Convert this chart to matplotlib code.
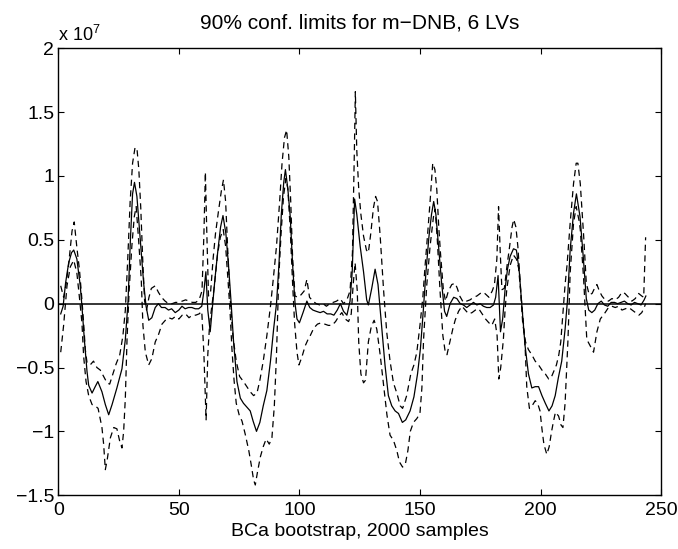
import matplotlib
matplotlib.use("Agg")
import matplotlib.pyplot as plt

# valeurs (unites de 1e7)
est_x = [1, 2, 3, 4.3, 5.5, 6.4, 7.7, 9.1, 9.8, 10.8, 11.9, 12.6, 14, 15.3, 16.4, 18.1, 19.5, 20.9,
         22.3, 24.3, 26.4, 27.8, 28.9, 29.9, 30.8, 31.6, 32.6, 34, 35.4, 36.4, 37.5, 38.8, 40.2,
         41.5, 42.8, 44.3, 45.7, 47, 48.5, 50, 51.3, 52.6, 54, 55.4, 56.8, 58.2, 59.5, 60.4, 61.2,
         62, 63, 63.8, 65, 66.2, 67.3, 68.3, 69.5, 70.6, 71.7, 72.7, 74.1, 75.5, 76.8, 78.2, 79.6,
         80.8, 82.2, 83.6, 85, 86.5, 88, 89.3, 90.5, 91.5, 92.5, 93.5, 94.2, 95.2, 96.2, 97.2, 98.2,
         99, 100, 101.5, 103.1, 104.3, 105.6, 107, 108.6, 110, 111.5, 113, 114.3, 115.7, 117, 118.3,
         119.7, 121, 121.9, 122.9, 123.8, 125.2, 126.6, 127.9, 128.6, 130, 131.4, 132.6, 134, 135.5,
         136.9, 138.3, 139.7, 141.1, 142.7, 144.1, 145.9, 147.5, 149, 150.2, 151.4, 152.5, 153.7,
         154.8, 155.7, 156.6, 157.7, 159, 160.2, 161.1, 162.5, 164, 165.3, 166.7, 168, 169.4, 170.8,
         172.2, 173.6, 175, 176.3, 177.7, 179.1, 180.5, 181.4, 182.4, 183.4, 184.3, 185.3, 186.3,
         187.4, 188.8, 190, 191.2, 192.2, 193.6, 195, 196.4, 197.8, 199.2, 200.6, 202, 203.5, 204.8,
         206.1, 207.4, 208.8, 210.2, 211.2, 212.3, 213.7, 214.9, 216.4, 217.8, 219, 220, 221.3,
         222.5, 223.8, 225.2, 226.5, 227.9, 229.3, 230.7, 232, 233.4, 234.8, 236.2, 237.6, 239,
         240.3, 241.7, 243, 243.7]
est_y = [-0.08, -0.02, 0.16, 0.32, 0.40, 0.42, 0.35, 0.14, -0.02, -0.28, -0.53, -0.64, -0.70, -0.65,
         -0.61, -0.69, -0.79, -0.87, -0.79, -0.66, -0.51, -0.28, 0.01, 0.50, 0.86, 0.95, 0.84, 0.50,
         0.16, -0.02, -0.13, -0.11, -0.03, 0.0, -0.03, -0.03, -0.05, -0.04, -0.07, -0.05, -0.02,
         -0.04, -0.03, -0.03, -0.04, -0.04, -0.02, 0.10, 0.25, -0.05, -0.22, -0.05, 0.20, 0.42,
         0.60, 0.69, 0.55, 0.30, 0.0, -0.30, -0.61, -0.74, -0.78, -0.81, -0.84, -0.92, -1.0, -0.93,
         -0.80, -0.68, -0.45, -0.20, 0.0, 0.30, 0.70, 0.95, 1.05, 0.90, 0.68, 0.30, 0.0, -0.12,
         -0.15, -0.07, 0.02, -0.03, -0.05, -0.06, -0.07, -0.06, -0.08, -0.08, -0.09, -0.05, 0.0,
         -0.06, -0.09, 0.02, 0.25, 0.82, 0.70, 0.45, 0.25, 0.03, -0.01, 0.12, 0.27, 0.15, -0.15,
         -0.48, -0.72, -0.80, -0.84, -0.86, -0.93, -0.91, -0.84, -0.73, -0.55, -0.35, -0.05, 0.25,
         0.52, 0.70, 0.80, 0.70, 0.45, 0.16, -0.06, -0.10, 0.0, 0.05, 0.04, 0.0, -0.01, -0.03,
         -0.01, 0.01, -0.01, 0.0, -0.02, -0.03, -0.03, -0.01, 0.05, 0.22, -0.22, -0.12, 0.11, 0.27,
         0.37, 0.43, 0.42, 0.25, 0.0, -0.33, -0.55, -0.66, -0.65, -0.65, -0.72, -0.78, -0.84, -0.80,
         -0.72, -0.58, -0.45, -0.20, 0.03, 0.42, 0.71, 0.86, 0.68, 0.35, 0.04, -0.05, -0.07, -0.05,
         0.0, 0.02, -0.01, -0.02, 0.01, 0.01, 0.0, 0.01, 0.02, 0.0, -0.01, 0.01, 0.0, -0.01, 0.03,
         0.06]

up_x = [1, 2.2, 3.2, 4.3, 5.7, 6.6, 7.7, 8.8, 9.8, 10.5, 11.2, 11.9, 13.2, 14.6, 16, 17.4, 18.8,
        20.2, 21.3, 22.5, 24, 25.5, 26.8, 27.8, 28.8, 29.8, 30.8, 31.8, 32.6, 33.4, 34.2, 35, 35.8,
        36.6, 37.6, 38.6, 40.2, 41.5, 42.8, 44.3, 45.7, 47.2, 48.6, 50, 51.4, 52.8, 54.2, 55.6, 57,
        58.4, 59.6, 60.4, 61, 61.6, 62.3, 63.2, 64.2, 65.2, 66.4, 67.6, 68.5, 69.4, 70.2, 71.2,
        72.4, 73.8, 75.2, 76.8, 78.2, 79.6, 81, 82.4, 83.6, 85, 86.5, 88, 89.2, 90.5, 91.8, 92.8,
        93.8, 94.7, 95.6, 96.4, 97.2, 98.2, 99.4, 100.7, 102, 103.1, 104.2, 105.6, 107, 108.4,
        109.8, 111.2, 112.6, 114, 115.4, 116.9, 118.3, 119.7, 121, 122, 122.8, 123.2, 123.8, 124.6,
        125.5, 126.6, 127.8, 128.6, 129.6, 130.7, 131.6, 132.4, 133.5, 134.9, 136.2, 137.6, 139,
        140.4, 141.8, 142.8, 144.5, 146.2, 147.5, 148.7, 150, 151.2, 152.1, 153.2, 154.2, 155.3,
        156.2, 157, 157.8, 158.5, 159.7, 160.6, 161.8, 163.2, 164.6, 165.5, 166.5, 168, 169.4,
        170.8, 172.2, 173.6, 175, 176.3, 177.5, 178.6, 180, 180.9, 181.9, 182.6, 183.3, 184, 185,
        186, 187.2, 188.2, 188.9, 189.8, 190.6, 191.5, 192.6, 193.8, 195, 196.4, 197.8, 199.2,
        200.6, 202, 203.4, 204.4, 205.5, 206.6, 207.6, 208.4, 209.4, 210.2, 211, 212.3, 213.7,
        214.8, 215.5, 216.5, 217.4, 217.9, 219, 220.2, 221.4, 222.4, 223.4, 224.4, 225.5, 226.8,
        228.2, 229.6, 231, 232.4, 233.8, 235, 236.5, 237.9, 239.3, 240.7, 242, 242.8, 243.6]
up_y = [0.14, 0.05, 0.15, 0.31, 0.57, 0.64, 0.44, 0.26, 0.03, -0.15, -0.36, -0.46, -0.48, -0.45,
        -0.50, -0.52, -0.57, -0.62, -0.63, -0.56, -0.47, -0.40, -0.25, -0.05, 0.35, 0.80, 1.10,
        1.22, 1.22, 1.05, 0.75, 0.35, 0.02, -0.05, 0.05, 0.12, 0.14, 0.09, 0.05, 0.02, 0.0, 0.0,
        0.01, 0.01, 0.02, 0.03, 0.02, 0.01, 0.01, 0.03, 0.10, 0.55, 1.03, 0.55, 0.06, 0.10, 0.35,
        0.55, 0.72, 0.88, 0.97, 0.80, 0.45, 0.06, -0.25, -0.45, -0.57, -0.61, -0.65, -0.69, -0.72,
        -0.70, -0.60, -0.45, -0.25, -0.02, 0.20, 0.45, 0.80, 1.10, 1.30, 1.36, 1.15, 0.80, 0.35,
        0.06, 0.05, 0.07, 0.10, 0.19, 0.05, 0.02, 0.0, -0.01, 0.0, -0.02, 0.0, 0.01, 0.02, 0.04,
        0.0, 0.03, 0.10, 0.40, 1.20, 1.66, 1.20, 0.90, 0.70, 0.53, 0.42, 0.40, 0.55, 0.75, 0.84,
        0.80, 0.53, 0.11, -0.22, -0.45, -0.62, -0.70, -0.80, -0.82, -0.72, -0.55, -0.48, -0.38,
        -0.17, 0.05, 0.29, 0.55, 0.80, 1.10, 1.05, 0.89, 0.60, 0.40, 0.11, 0.02, 0.10, 0.15, 0.16,
        0.12, 0.06, 0.01, 0.02, 0.03, 0.05, 0.06, 0.08, 0.09, 0.07, 0.05, 0.10, 0.15, 0.35, 0.76,
        0.40, 0.11, 0.12, 0.28, 0.45, 0.60, 0.66, 0.60, 0.45, 0.19, -0.15, -0.30, -0.36, -0.40,
        -0.45, -0.48, -0.52, -0.55, -0.59, -0.58, -0.53, -0.48, -0.40, -0.30, -0.05, 0.15, 0.30,
        0.63, 0.94, 1.10, 1.10, 0.94, 0.68, 0.53, 0.16, 0.07, 0.08, 0.12, 0.15, 0.10, 0.06, 0.03,
        0.02, 0.04, 0.03, 0.05, 0.09, 0.08, 0.05, 0.02, 0.04, 0.08, 0.06, 0.05, 0.52]

lo_x = [1, 2.2, 3.6, 5, 6.4, 7.7, 8.7, 9.8, 10.5, 11.5, 12.6, 14, 15.3, 16.5, 18.1, 18.8, 19.5,
        20.3, 21.6, 23, 24.3, 25.5, 26.4, 27.1, 27.8, 28.5, 29.4, 30.5, 31.5, 32.3, 33.3, 34.4,
        35.1, 36.1, 37.5, 38.8, 40.2, 41.6, 43, 44.4, 45.8, 47.2, 48.6, 50, 51.4, 52.8, 54.2, 55.6,
        57, 58.4, 59.5, 60.4, 61.3, 62, 62.8, 63.8, 64.8, 66, 67.2, 68.4, 69.4, 70.4, 71.2, 72,
        72.9, 73.8, 75, 76.2, 77.5, 79, 80, 81, 81.7, 82.6, 83.8, 85, 86.2, 87.5, 88.6, 89.6, 90.5,
        91.4, 92.4, 93.4, 94.4, 95.2, 96.2, 97.2, 98, 99, 99.8, 101, 102.4, 103.6, 104.5, 106,
        107.5, 109, 110.5, 112, 113.5, 115, 116.3, 117.6, 119, 120.4, 121.5, 122.3, 123.1, 124,
        124.6, 125.5, 126.6, 127.4, 128.6, 129.8, 131, 132.1, 133.5, 135, 136.3, 137.6, 139, 140.4,
        141.5, 142.8, 144, 145, 146, 147.3, 148.7, 150, 150.8, 151.5, 152.8, 154.2, 155.6, 156.3,
        157.2, 158.3, 159.5, 160.5, 161.2, 162.4, 163.6, 164.6, 166, 167.4, 168.8, 170.2, 171.6,
        173, 174.4, 175.8, 177.2, 178.6, 179.8, 181, 182, 182.7, 183.5, 184.6, 185.3, 186, 187.4,
        188.8, 190, 190.9, 192, 192.9, 193.6, 194.3, 195.4, 196.5, 197.8, 198.8, 199.8, 200.6,
        201.4, 202.6, 203.6, 204.6, 205.4, 206.2, 207.5, 208.5, 209.3, 210.2, 211.4, 212.3, 213.7,
        214.8, 216, 216.5, 217.9, 219.2, 220.6, 222, 223.4, 224.8, 226.8, 228.2, 229.6, 231, 232.4,
        233.8, 235.2, 236.6, 238, 239.4, 240.8, 242, 243, 243.6]
lo_y = [-0.38, -0.17, 0.14, 0.29, 0.34, 0.24, 0.06, -0.15, -0.41, -0.61, -0.72, -0.79, -0.80,
        -0.82, -0.97, -1.10, -1.30, -1.22, -1.05, -0.97, -0.98, -1.08, -1.13, -1.00, -0.74, -0.28,
        0.11, 0.45, 0.68, 0.76, 0.50, 0.19, -0.17, -0.38, -0.48, -0.43, -0.30, -0.24, -0.16, -0.13,
        -0.11, -0.12, -0.10, -0.12, -0.09, -0.08, -0.11, -0.09, -0.09, -0.08, -0.06, -0.40, -0.91,
        -0.40, -0.15, 0.0, 0.15, 0.38, 0.52, 0.58, 0.45, 0.18, -0.05, -0.35, -0.60, -0.78, -0.87,
        -0.92, -1.02, -1.15, -1.26, -1.38, -1.42, -1.32, -1.20, -1.12, -1.06, -1.10, -1.05, -0.80,
        -0.40, 0.19, 0.55, 0.84, 0.98, 0.90, 0.58, 0.15, -0.15, -0.38, -0.48, -0.42, -0.33, -0.28,
        -0.25, -0.19, -0.16, -0.15, -0.16, -0.17, -0.17, -0.14, -0.10, -0.07, -0.12, -0.14, -0.08,
        0.15, 0.32, 0.10, -0.30, -0.55, -0.62, -0.60, -0.30, -0.18, -0.13, -0.20, -0.40, -0.65,
        -0.87, -1.03, -1.07, -1.15, -1.24, -1.28, -1.25, -1.15, -1.0, -0.93, -0.90, -0.86, -0.66,
        -0.28, 0.14, 0.45, 0.68, 0.74, 0.50, 0.11, -0.25, -0.38, -0.40, -0.30, -0.20, -0.13, -0.06,
        -0.02, -0.05, -0.08, -0.07, -0.05, -0.04, -0.08, -0.12, -0.15, -0.17, -0.12, -0.25, -0.59,
        -0.50, -0.28, -0.05, 0.11, 0.30, 0.38, 0.35, 0.28, 0.05, -0.15, -0.33, -0.65, -0.82, -0.80,
        -0.76, -0.78, -0.84, -0.98, -1.10, -1.18, -1.12, -1.0, -0.92, -0.85, -0.88, -0.95, -0.97,
        -0.78, -0.28, 0.24, 0.63, 0.76, 0.65, 0.58, 0.19, -0.28, -0.33, -0.38, -0.22, -0.12, -0.07,
        -0.03, -0.02, -0.03, -0.02, -0.05, -0.04, -0.03, -0.05, -0.07, -0.09, -0.07, -0.03, 0.0]

x_ticks = [0, 50, 100, 150, 200, 250]
y_ticks = [-1.5, -1, -0.5, 0, 0.5, 1, 1.5, 2]

plt.rcParams['font.family'] = ['Liberation Sans', 'DejaVu Sans']
plt.rcParams['mathtext.fontset'] = 'custom'
plt.rcParams['mathtext.rm'] = 'Liberation Sans'

fig = plt.figure(figsize=(6.78, 5.49), dpi=100)
ax = fig.add_axes([0.086, 0.098, 0.889, 0.814])

ax.axhline(0, color='black', lw=1.1)
ax.plot(est_x, est_y, color='black', lw=0.9)
ax.plot(up_x, up_y, color='black', lw=0.9, dashes=(5, 3.5))
ax.plot(lo_x, lo_y, color='black', lw=0.9, dashes=(5, 3.5))

ax.set_xlim(0, 250)
ax.set_ylim(-1.5, 2)
ax.set_xticks(x_ticks)
ax.set_yticks(y_ticks)
ax.set_yticklabels(['\u22121.5', '\u22121', '\u22120.5', '0', '0.5', '1', '1.5', '2'])
ax.tick_params(direction='in', length=4, width=0.8, top=True, right=True, labelsize=14)
ax.tick_params(axis='x', pad=5)
ax.tick_params(axis='y', pad=3)
for s in ax.spines.values():
    s.set_linewidth(1.0)

ax.text(0.0, 1.008, 'x 10$^{7}$', transform=ax.transAxes, ha='left', va='bottom', fontsize=13)
ax.set_title('90% conf. limits for m\u2212DNB, 6 LVs', fontsize=15, pad=14)
ax.set_xlabel('BCa bootstrap, 2000 samples', fontsize=14, labelpad=3)

plt.savefig('out.png', dpi=100)
